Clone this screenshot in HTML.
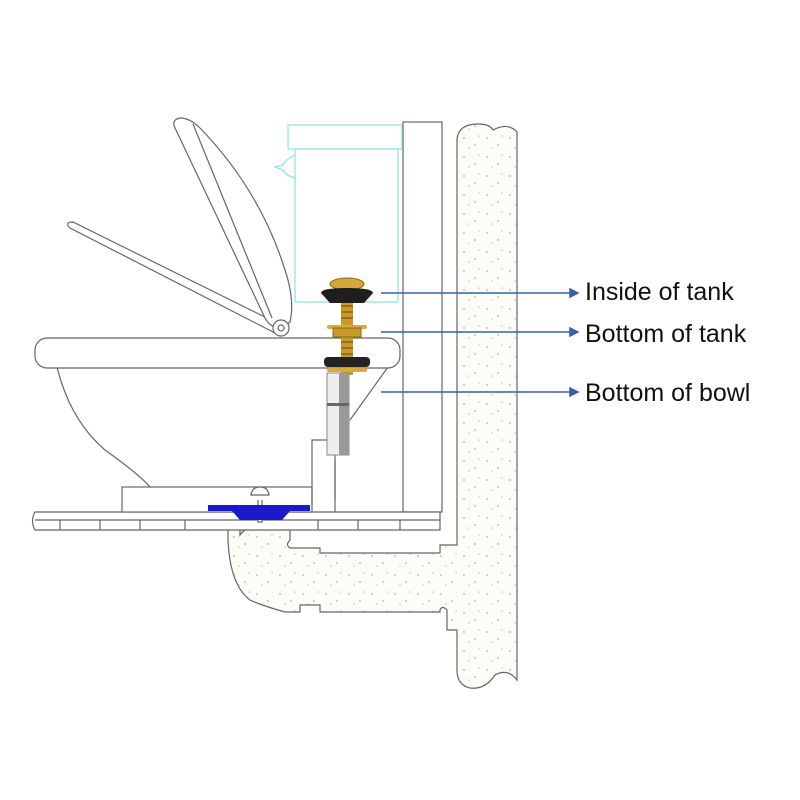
<!DOCTYPE html>
<html><head><meta charset="utf-8"><style>
html,body{margin:0;padding:0;background:#fff;width:800px;height:800px;overflow:hidden}
text{font-family:"Liberation Sans",Arial,sans-serif}
</style></head><body>
<svg width="800" height="800" viewBox="0 0 800 800" xmlns="http://www.w3.org/2000/svg">
<defs>
<pattern id="dots" width="23" height="19" patternUnits="userSpaceOnUse">
<rect width="23" height="19" fill="#fdfdf8"/>
<circle cx="4" cy="5" r="1" fill="#c8c4a0"/><circle cx="15" cy="12" r="1" fill="#c8c4a0"/><circle cx="19" cy="3" r="0.8" fill="#c8c4a0"/><circle cx="9" cy="15" r="0.8" fill="#c8c4a0"/>
</pattern>
</defs>
<g fill="none" stroke="#666" stroke-width="1.2">
<!-- wall -->
<path d="M457 140 Q458 124 478 124 Q490 124 493 130 Q508 122 517 132 L517 680 Q508 668 495 675 Q485 690 470 688 Q457 685 457 670 L457 630 L447 630 L447 610 Q442 605 440 610 L440 612 L320 612 L320 605 L300 605 L300 612 L285 612 Q260 605 250 600 Q230 585 228 540 L228 520 L240 520 L240 535 Q250 520 290 520 L290 540 Q285 545 290 548 L320 548 L320 553 L440 553 L440 545 L457 545 Z" fill="url(#dots)"/>
<!-- tank back plate -->
<rect x="403" y="122" width="39" height="390" fill="#fff"/>
<!-- floor -->
<path d="M35 512 L440 512 L440 530 L35 530 Q30 521 35 512 Z" fill="#fff"/>
<path d="M35 520 L440 520 M60 520 L60 530 M100 520 L100 530 M140 520 L140 530 M185 520 L185 530 M318 520 L318 530 M358 520 L358 530 M400 520 L400 530"/>
<!-- base -->
<rect x="122" y="487" width="190" height="25" fill="#fff"/>
<path d="M312 505 L312 440 L335 440 L335 512"/>
<!-- bowl -->
<path d="M57 367 Q70 420 105 450 Q140 475 150 487" />
<path d="M388 367 L350 420 M335 500 L335 460"/>
<rect x="35" y="338" width="365" height="30" rx="12" fill="#fff"/>
<!-- seat lid -->
<path d="M70 228 L275 333 L281 325 L73 222 Q64 222 70 228 Z" fill="#fff"/>
<path d="M180 118 Q170 120 176 130 L265 318 Q275 335 290 322 Q295 300 285 270 Q260 190 200 128 Q190 118 180 118 Z" fill="#fff"/>
<path d="M193 124 L272 318"/>
<circle cx="281" cy="328" r="8" fill="#fff"/><circle cx="281" cy="328" r="3"/>
<!-- flange bolt -->
<path d="M258 500 L258 522 L262 522 L262 500" fill="#fff"/>
<path d="M251 495 Q252 487 260 487 Q268 487 269 495 Z" fill="#fff"/>
</g>
<!-- tank cyan -->
<g fill="none" stroke="#8ee0e4" stroke-width="1.2">
<rect x="288" y="125" width="114" height="24"/>
<rect x="295" y="149" width="103" height="153"/>
<path d="M295 155 Q285 160 283 165 L275 167 L283 170 Q285 175 295 178"/>
</g>
<!-- blue flange -->
<path d="M208 505 L310 505 L310 511 L290 511 L282 520 L240 520 L232 511 L208 511 Z" fill="#1a1acc"/>
<!-- bolt -->
<rect x="341" y="290" width="12" height="85" fill="#c89a2a"/>
<rect x="327" y="373" width="22" height="82" fill="#eee" stroke="#888"/>
<rect x="339" y="373" width="10" height="82" fill="#999"/>
<rect x="327" y="403" width="22" height="3" fill="#666"/>
<path d="M341 300 h12 M341 306 h12 M341 312 h12 M341 318 h12 M341 342 h12 M341 348 h12 M341 354 h12" stroke="#8a6510" stroke-width="1.5"/>
<ellipse cx="347" cy="284" rx="17" ry="6" fill="#d4a83a" stroke="#8a6a10"/>
<path d="M321 293 Q321 288 347 288 Q373 288 373 293 L364 303 L330 303 Z" fill="#1e1e1e"/>
<rect x="327" y="325" width="40" height="4" rx="2" fill="#d9a840"/>
<rect x="333" y="328" width="28" height="9" fill="#c89a2a" stroke="#8a6a10"/>
<rect x="324" y="357" width="46" height="10" rx="4" fill="#222"/>
<rect x="327" y="368" width="40" height="4" rx="2" fill="#d9a840"/>
<!-- pointers -->
<g stroke="#3a5fb0" stroke-width="1.5" fill="#3a5fb0">
<line x1="381" y1="293" x2="574" y2="293"/><path d="M578 293 l-8 -4 v8 z"/>
<line x1="381" y1="332" x2="574" y2="332"/><path d="M578 332 l-8 -4 v8 z"/>
<line x1="381" y1="392" x2="574" y2="392"/><path d="M578 392 l-8 -4 v8 z"/>
</g>
<g font-size="25" fill="#111">
<text x="585" y="300">Inside of tank</text>
<text x="585" y="342">Bottom of tank</text>
<text x="585" y="401">Bottom of bowl</text>
</g>
</svg>
</body></html>
